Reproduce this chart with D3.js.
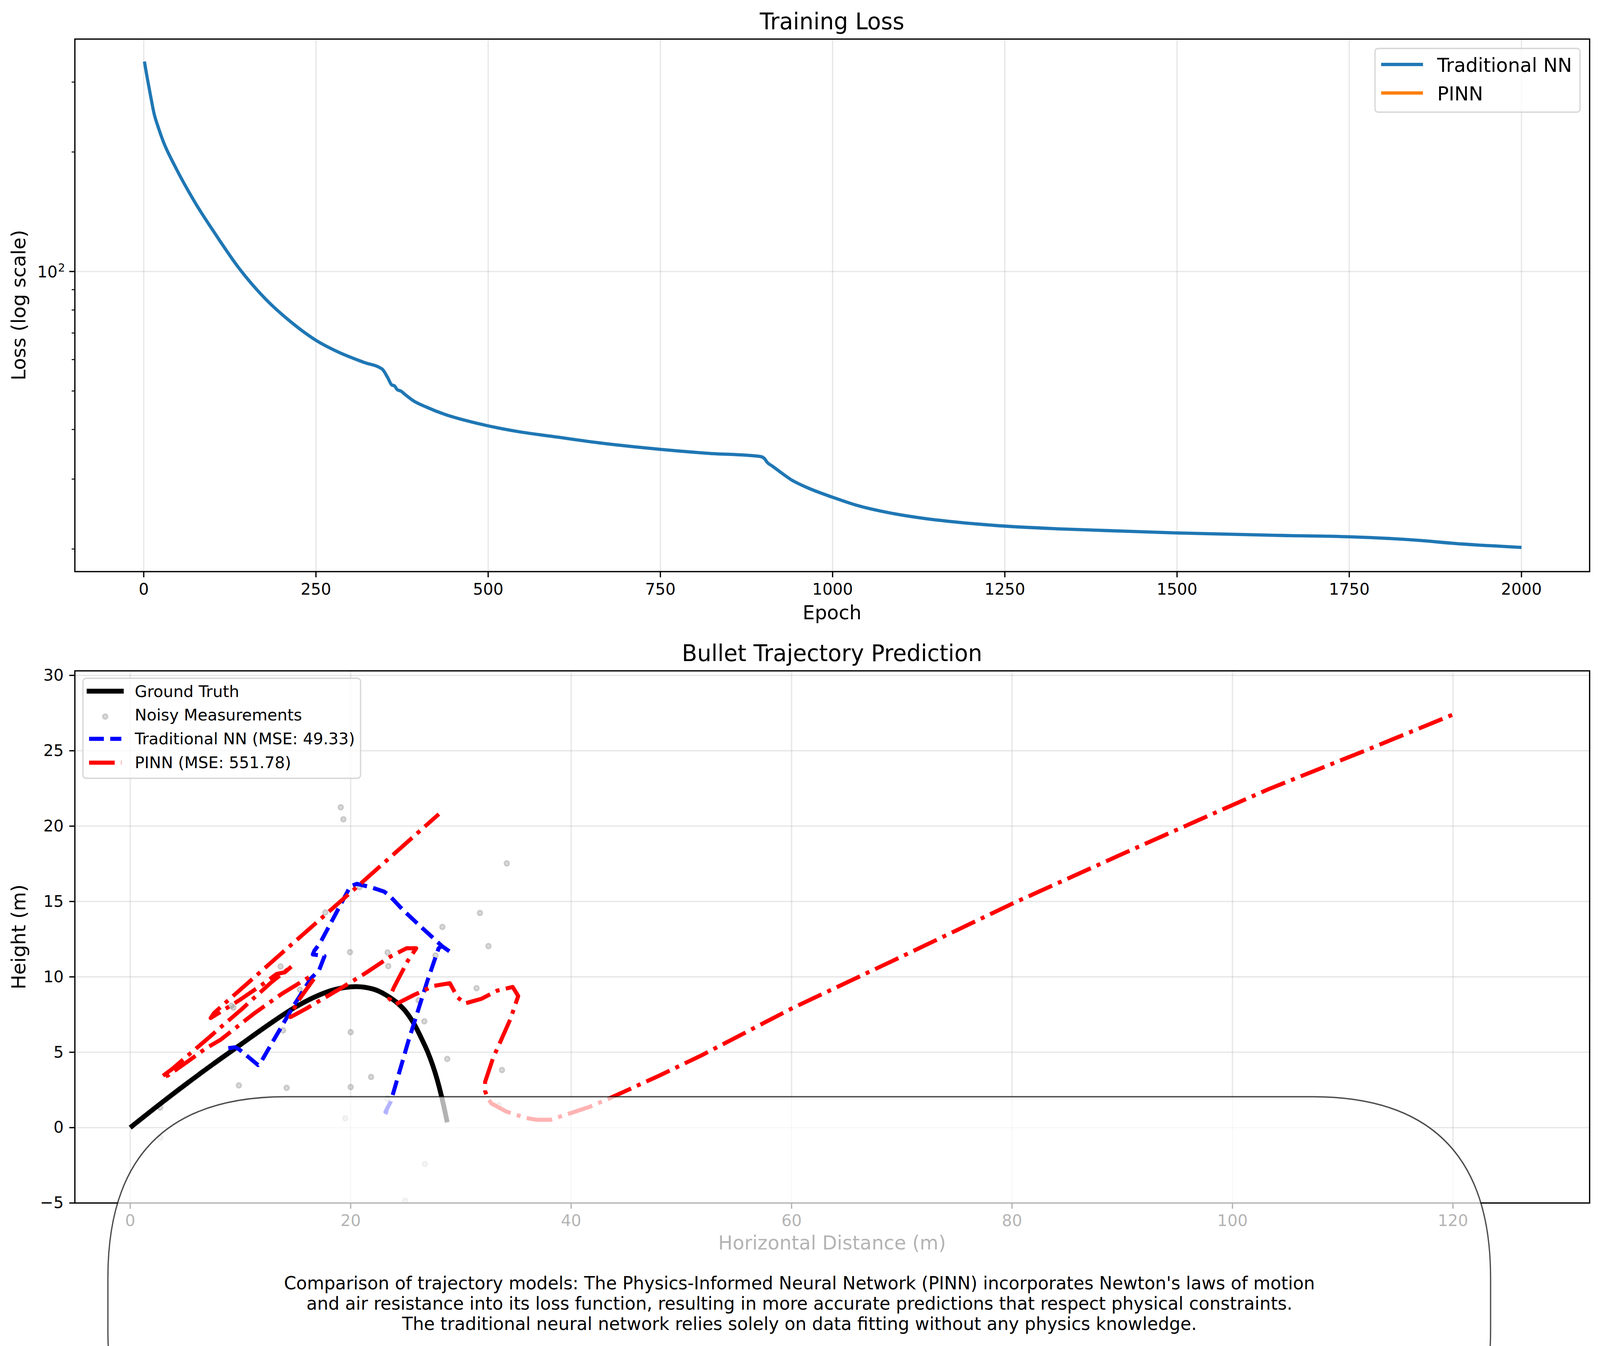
<!DOCTYPE html>
<html>
<head>
<meta charset="utf-8">
<script src="https://cdn.jsdelivr.net/npm/d3@7"></script>
<style>
  html, body { margin: 0; background: #fff; overflow: hidden; }
  text { font-family: "DejaVu Sans"; fill: #000; }
</style>
</head>
<body>
<div id="chart"></div>
<script>
// Training loss
const epochs = [1, 5, 10, 15, 21, 28, 46, 74, 103, 138, 177, 213, 250, 284, 320, 346, 354, 360, 364, 368, 373, 380, 391, 411, 438, 466, 500, 544, 599, 662, 750, 818, 895, 901, 905, 913, 924, 940, 963, 1000, 1034, 1086, 1131, 1183, 1250, 1325, 1430, 1501, 1654, 1750, 1781, 1852, 1901, 2000];
const lossTraditional = [337.9, 308, 276.7, 250, 231, 213.3, 183.2, 149.7, 125, 102.1, 85.2, 74.8, 67.1, 62.5, 59, 56.8, 54.1, 51.8, 51.5, 50.4, 50, 48.9, 47.3, 45.5, 43.6, 42.2, 40.85, 39.5, 38.3, 37, 35.65, 34.85, 34.2, 33.8, 33.07, 32.3, 31.26, 29.88, 28.56, 27, 25.8, 24.6, 23.9, 23.34, 22.84, 22.49, 22.16, 21.95, 21.63, 21.47, 21.37, 21.02, 20.67, 20.18];

// Trajectories
const truthX = [0, 2.5, 5, 7.5, 10, 12.5, 15, 17, 18.5, 20.5, 22, 23.2, 24.1, 25, 25.8, 26.5, 27, 27.85, 28.41, 28.76];
const truthY = [0, 1.45, 2.85, 4.2, 5.5, 6.8, 8, 8.75, 9.15, 9.35, 9.2, 8.8, 8.35, 7.7, 6.82, 5.8, 5, 3.18, 1.55, 0.35];

const noisyX = [19.1, 19.34, 34.16, 31.73, 28.32, 32.5, 19.94, 23.35, 23.41, 27.69, 13.64, 17.7, 20.8, 15.4, 9.19, 9.36, 31.42, 26.16, 26.68, 13.87, 20, 28.76, 33.73, 21.85, 9.86, 14.19, 20, 2.72, 23.35, 33.44, 19.51, 2.75, 26.73, 24.95];
const noisyY = [21.25, 20.45, 17.53, 14.24, 13.31, 12.04, 11.64, 11.62, 10.71, 11.42, 10.69, 14.27, 15.95, 9.15, 8.09, 7.96, 9.25, 8.44, 7.05, 6.45, 6.33, 4.56, 3.82, 3.36, 2.8, 2.64, 2.69, 1.33, 1.91, 1.49, 0.62, -0.67, -2.42, -4.85];

const tradX = [8.9, 9.54, 9.9, 11.6, 11.94, 14.83, 16.4, 17.14, 17.63, 16.56, 16.7, 17.23, 18.43, 19.96, 20.56, 21.76, 23.03, 23.5, 24.8, 26.3, 28.27, 29.13, 28.27, 27.98, 26.96, 25.23, 23.64, 23.15, 23.87];
const tradY = [5.27, 5.33, 5.18, 4.15, 4.45, 8.09, 9.9, 10.45, 11.38, 11.49, 11.73, 12.25, 13.89, 16, 16.17, 15.96, 15.66, 15.4, 14.4, 13.37, 12.05, 11.6, 12.05, 11.9, 9.73, 5.73, 1.73, 1.04, 0.82];

const pinnX = [28, 20, 8.76, 7.6, 7.3, 9.9, 11.9, 13.3, 14.03, 14.69, 12.8, 11, 10.06, 8.18, 7.02, 5.14, 3.84, 2.83, 3.4, 5, 6.88, 8.18, 10.06, 11.2, 13.8, 16.27, 16.7, 15.1, 14.54, 15.98, 17.7, 19.16, 21.2, 23.64, 25.08, 25.95, 25.2, 23.9, 23.5, 24.07, 25.8, 27.54, 29, 29.7, 30.38, 31.88, 33.3, 34.7, 35.2, 34.48, 33.6, 32.93, 32.2, 32.2, 32.44, 32.78, 34.1, 35.9, 36.9, 38.1, 39.67, 41.67, 43.44, 48, 51.9, 60, 70, 80, 90, 100, 103.3, 112, 120];
const pinnY = [20.8, 15.6, 8.36, 7.6, 7.27, 8.45, 9.45, 10.2, 10.3, 10.73, 9.64, 8.45, 7.82, 6.64, 5.9, 4.73, 3.91, 3.36, 3.45, 4.27, 5.27, 5.82, 6.9, 7.55, 8.9, 10, 9.9, 8.27, 7.33, 7.9, 8.64, 9.27, 10.18, 11.36, 11.9, 11.9, 11.09, 9.27, 8.55, 8.18, 8.82, 9.4, 9.58, 8.64, 8.24, 8.55, 9.09, 9.33, 8.73, 7.18, 5.73, 4.64, 3.04, 2.42, 1.93, 1.6, 1.07, 0.64, 0.52, 0.52, 0.89, 1.38, 1.93, 3.45, 4.82, 7.9, 11.35, 14.85, 18.15, 21.4, 22.46, 25, 27.4];

// Ticks and text
const lossXTicks = [0, 250, 500, 750, 1000, 1250, 1500, 1750, 2000];
const lossMinorTicks = [20, 30, 40, 50, 60, 70, 80, 90, 200, 300];
const trajXTicks = [0, 20, 40, 60, 80, 100, 120];
const trajYTicks = [-5, 0, 5, 10, 15, 20, 25, 30];
const captionLines = [
  "Comparison of trajectory models: The Physics-Informed Neural Network (PINN) incorporates Newton's laws of motion",
  "and air resistance into its loss function, resulting in more accurate predictions that respect physical constraints.",
  "The traditional neural network relies solely on data fitting without any physics knowledge."
];

// Browser caps the window below 4167 wide, so draw in 4167 units and fit the viewport
const svg = d3.select("#chart").append("svg")
  .attr("viewBox", "0 0 4167 3445")
  .attr("preserveAspectRatio", "none")
  .attr("width", window.innerWidth)
  .attr("height", 3445)
  .style("display", "block");

const left = 195, right = 4140;
const tickPad = 14.6;

// Style an axis group the way matplotlib draws it
function styleAxis(g, size) {
  g.select(".domain").remove();
  g.selectAll(".tick line").attr("stroke", "#000").attr("stroke-width", 3.3);
  g.selectAll(".tick text").attr("font-family", "DejaVu Sans").attr("font-size", size).attr("fill", "#000");
}

function spines(top, bottom) {
  svg.append("rect")
    .attr("x", left).attr("y", top)
    .attr("width", right - left).attr("height", bottom - top)
    .attr("fill", "none").attr("stroke", "#000").attr("stroke-width", 3.3);
}

function gridX(scale, ticks, top, bottom) {
  svg.append("g").selectAll("line").data(ticks).enter().append("line")
    .attr("x1", d => scale(d)).attr("x2", d => scale(d))
    .attr("y1", top).attr("y2", bottom)
    .attr("stroke", "#b0b0b0").attr("stroke-opacity", 0.3).attr("stroke-width", 3.3);
}

function gridY(scale, ticks) {
  svg.append("g").selectAll("line").data(ticks).enter().append("line")
    .attr("x1", left).attr("x2", right)
    .attr("y1", d => scale(d)).attr("y2", d => scale(d))
    .attr("stroke", "#b0b0b0").attr("stroke-opacity", 0.3).attr("stroke-width", 3.3);
}

function label(x, y, str, size, anchor) {
  return svg.append("text")
    .attr("x", x).attr("y", y)
    .attr("font-size", size)
    .attr("text-anchor", anchor || "middle")
    .text(str);
}

// Top panel: training loss
const lossTop = 100, lossBottom = 1463;
const lossXScale = d3.scaleLinear().domain([-99.95, 2098.95]).range([left, right]);
const lossYScale = d3.scaleLog().domain([17.54, 385]).range([lossBottom, lossTop]);

gridX(lossXScale, lossXTicks, lossTop, lossBottom);
gridY(lossYScale, [100]);

const lossLine = d3.line()
  .x((d, i) => lossXScale(epochs[i]))
  .y(d => lossYScale(d))
  .curve(d3.curveMonotoneX);

svg.append("path")
  .attr("d", lossLine(lossTraditional))
  .attr("fill", "none")
  .attr("stroke", "#1f77b4")
  .attr("stroke-width", 8.3);

svg.append("g")
  .attr("transform", `translate(0,${lossBottom})`)
  .call(d3.axisBottom(lossXScale).tickValues(lossXTicks).tickFormat(d3.format("d")).tickSize(14.6).tickPadding(tickPad).offset(0))
  .call(g => styleAxis(g, 41.67));

svg.append("g")
  .attr("transform", `translate(${left},0)`)
  .call(d3.axisLeft(lossYScale).tickValues(lossMinorTicks).tickFormat("").tickSize(8.3).offset(0))
  .call(g => styleAxis(g, 41.67))
  .call(g => g.selectAll(".tick line").attr("stroke-width", 2.5));

svg.append("g")
  .attr("transform", `translate(${left},0)`)
  .call(d3.axisLeft(lossYScale).tickValues([100]).tickFormat("").tickSize(14.6).offset(0))
  .call(g => styleAxis(g, 41.67));

label(150, lossYScale(100) + 15, "10", 41.67, "end");
svg.append("text").attr("x", 151).attr("y", lossYScale(100)).attr("font-size", 29).text("2");

spines(lossTop, lossBottom);

label(2167, 75, "Training Loss", 58.3);
label(2167, 1585, "Epoch", 50);
svg.append("text")
  .attr("transform", `translate(66,781) rotate(-90)`)
  .attr("text-anchor", "middle")
  .attr("font-size", 50)
  .text("Loss (log scale)");

// Legend for the loss panel (the PINN curve never shows up, only its key)
svg.append("rect")
  .attr("x", 3581).attr("y", 124).attr("width", 534).attr("height", 163).attr("rx", 8)
  .attr("fill", "#fff").attr("fill-opacity", 0.8).attr("stroke", "#ccc").attr("stroke-opacity", 0.8).attr("stroke-width", 3.3);
[["Traditional NN", "#1f77b4", 165, 184], ["PINN", "#ff7f0e", 238, 257]].forEach(d => {
  svg.append("line").attr("x1", 3597).attr("x2", 3706).attr("y1", d[2]).attr("y2", d[2])
    .attr("stroke", d[1]).attr("stroke-width", 8.3);
  label(3743, d[3], d[0], 50, "start");
});

// Bottom panel: trajectory
const trajTop = 1717, trajBottom = 3079;
const xScale = d3.scaleLinear().domain([-5.02, 132.4]).range([left, right]);
const yScale = d3.scaleLinear().domain([-5, 30.3]).range([trajBottom, trajTop]);

svg.append("clipPath").attr("id", "trajClip").append("rect")
  .attr("x", left).attr("y", trajTop).attr("width", right - left).attr("height", trajBottom - trajTop);

gridX(xScale, trajXTicks, trajTop, trajBottom);
gridY(yScale, trajYTicks);

const plot = svg.append("g").attr("clip-path", "url(#trajClip)");

function pathOf(xs, ys, curve) {
  return d3.line()
    .x((d, i) => xScale(xs[i]))
    .y(d => yScale(d))
    .curve(curve)(ys);
}

// scatter sits under the lines
plot.selectAll("circle").data(noisyY).enter().append("circle")
  .attr("cx", (d, i) => xScale(noisyX[i]))
  .attr("cy", d => yScale(d))
  .attr("r", 6.5)
  .attr("fill", "gray").attr("fill-opacity", 0.3)
  .attr("stroke", "gray").attr("stroke-opacity", 0.3).attr("stroke-width", 4);

plot.append("path")
  .attr("d", pathOf(truthX, truthY, d3.curveMonotoneX))
  .attr("fill", "none").attr("stroke", "#000").attr("stroke-width", 12.5);

plot.append("path")
  .attr("d", pathOf(tradX, tradY, d3.curveLinear))
  .attr("fill", "none").attr("stroke", "#00f").attr("stroke-width", 10.4)
  .attr("stroke-dasharray", "38.5,16.6").attr("stroke-linejoin", "round");

const pinnPath = plot.append("path")
  .attr("d", pathOf(pinnX, pinnY, d3.curveLinear))
  .attr("fill", "none").attr("stroke", "#f00").attr("stroke-width", 10.4)
  .attr("stroke-dasharray", "66.7,16.6,10.4,16.6").attr("stroke-linejoin", "round");

// line the dash pattern up with the long straight run: it ends just after a dot
const dashPeriod = 110.3;
const pinnLength = pinnPath.node().getTotalLength();
pinnPath.attr("stroke-dashoffset", ((96 - pinnLength) % dashPeriod + dashPeriod) % dashPeriod);

svg.append("g")
  .attr("transform", `translate(0,${trajBottom})`)
  .call(d3.axisBottom(xScale).tickValues(trajXTicks).tickFormat(d3.format("d")).tickSize(14.6).tickPadding(tickPad).offset(0))
  .call(g => styleAxis(g, 41.67));

svg.append("g")
  .attr("transform", `translate(${left},0)`)
  .call(d3.axisLeft(yScale).tickValues(trajYTicks).tickFormat(d => d < 0 ? "\u2212" + (-d) : d).tickSize(14.6).tickPadding(tickPad).offset(0))
  .call(g => styleAxis(g, 41.67));

spines(trajTop, trajBottom);

label(2167, 1692, "Bullet Trajectory Prediction", 58.3);
label(2167, 3198, "Horizontal Distance (m)", 50);
svg.append("text")
  .attr("transform", `translate(66,2398) rotate(-90)`)
  .attr("text-anchor", "middle")
  .attr("font-size", 50)
  .text("Height (m)");

// Legend for the trajectory panel
svg.append("rect")
  .attr("x", 216).attr("y", 1736).attr("width", 723).attr("height", 256).attr("rx", 8)
  .attr("fill", "#fff").attr("fill-opacity", 0.8).attr("stroke", "#ccc").attr("stroke-opacity", 0.8).attr("stroke-width", 3.3);

svg.append("line").attr("x1", 232).attr("x2", 316).attr("y1", 1769).attr("y2", 1769)
  .attr("stroke", "#000").attr("stroke-width", 12.5).attr("stroke-linecap", "square");
svg.append("circle").attr("cx", 274).attr("cy", 1834).attr("r", 6.5)
  .attr("fill", "gray").attr("fill-opacity", 0.3).attr("stroke", "gray").attr("stroke-opacity", 0.3).attr("stroke-width", 4);
svg.append("line").attr("x1", 232).attr("x2", 316).attr("y1", 1891).attr("y2", 1891)
  .attr("stroke", "#00f").attr("stroke-width", 10.4).attr("stroke-dasharray", "38.5,16.6");
svg.append("line").attr("x1", 232).attr("x2", 316).attr("y1", 1952).attr("y2", 1952)
  .attr("stroke", "#f00").attr("stroke-width", 10.4).attr("stroke-dasharray", "66.7,16.6,10.4,16.6");

label(351, 1784, "Ground Truth", 41.67, "start");
label(351, 1844, "Noisy Measurements", 41.67, "start");
label(351, 1905, "Traditional NN (MSE: 49.33)", 41.67, "start");
label(351, 1966, "PINN (MSE: 551.78)", 41.67, "start");

// Caption box runs off the bottom of the page and washes out what is under it.
// Corners are quadratic like matplotlib's round boxstyle, not circular arcs.
const boxX0 = 281, boxX1 = 3882, boxY0 = 2807, boxY1 = 3869, boxR = 463;
const box = d3.path();
box.moveTo(boxX0 + boxR, boxY0);
box.lineTo(boxX1 - boxR, boxY0);
box.quadraticCurveTo(boxX1, boxY0, boxX1, boxY0 + boxR);
box.lineTo(boxX1, boxY1 - boxR);
box.quadraticCurveTo(boxX1, boxY1, boxX1 - boxR, boxY1);
box.lineTo(boxX0 + boxR, boxY1);
box.quadraticCurveTo(boxX0, boxY1, boxX0, boxY1 - boxR);
box.lineTo(boxX0, boxY0 + boxR);
box.quadraticCurveTo(boxX0, boxY0, boxX0 + boxR, boxY0);
box.closePath();

svg.append("path")
  .attr("d", box.toString())
  .attr("fill", "#fff").attr("fill-opacity", 0.7)
  .attr("stroke", "#000").attr("stroke-opacity", 0.7).attr("stroke-width", 3.3);

captionLines.forEach((line, i) => label(2082, 3300 + i * 52, line, 45.83));
</script>
</body>
</html>
